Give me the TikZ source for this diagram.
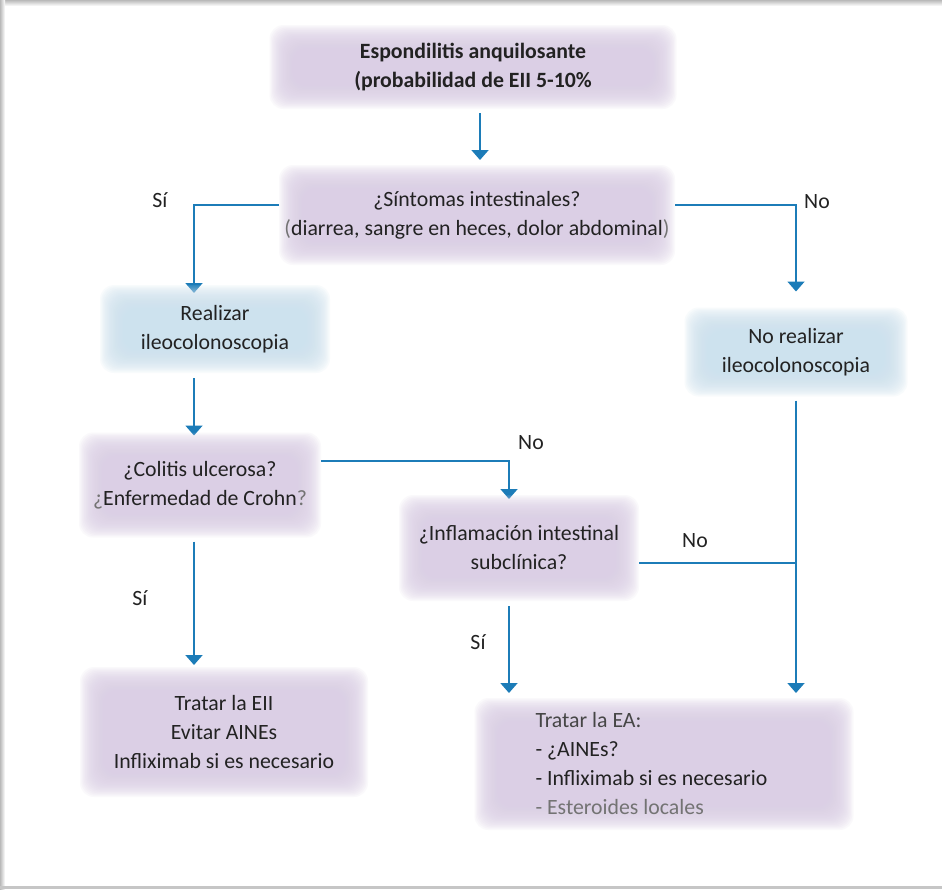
\documentclass[tikz,border=0pt]{standalone}
\usepackage{fontspec}
\setmainfont{Carlito}
\usetikzlibrary{arrows.meta, calc, positioning}
\pgfdeclarelayer{paper}
\pgfdeclarelayer{background}
\pgfsetlayers{paper,background,main}
\definecolor{flowblue}{RGB}{28,124,184}
\definecolor{lilac}{RGB}{219,207,229}
\definecolor{iceblue}{RGB}{205,226,238}
\definecolor{inkgray}{RGB}{34,34,34}
\definecolor{midgray}{RGB}{70,70,70}
\definecolor{softgray}{RGB}{115,115,115}

\begin{document}
\begin{tikzpicture}[x=1pt, y=-1pt, >={Triangle[width=17pt,length=10pt]},
  every node/.style={font=\fontsize{21.8}{29}\selectfont, text=inkgray},
  softfill/.style={path picture={
    \foreach \k in {0,...,21}{
      \fill[#1, fill opacity=0.12, rounded corners=14pt]
        ([shift={(\k*1.3pt,-\k*1.3pt)}]path picture bounding box.north west) rectangle
        ([shift={(-\k*1.3pt,\k*1.3pt)}]path picture bounding box.south east);}}},
  box/.style={align=center, inner sep=0pt, outer sep=0pt},
  lilacbox/.style={box, softfill=lilac},
  icebox/.style={box, softfill=iceblue},
  flow/.style={->, flowblue, line width=1.8pt},
  flowline/.style={flowblue, line width=1.8pt},
  answer/.style={inner sep=0pt}]
  % page with a soft grey rim
  \useasboundingbox (0,0) rectangle (942,889);
  \begin{pgfonlayer}{paper}
    \fill[white] (0,0) rectangle (942,889);
    \shade[top color=gray!55, bottom color=white] (0,0) rectangle (942,6);
    \shade[left color=gray!55, right color=white] (0,0) rectangle (5,889);
    \fill[gray!45] (0,886) rectangle (942,889);
  \end{pgfonlayer}
  % boxes
  \node[lilacbox, minimum width=407pt, minimum height=84pt] (esp) at (473,67)
    {\bfseries Espondilitis anquilosante\\\bfseries (probabilidad de EII 5-10\%};
  \node[lilacbox, minimum width=396pt, minimum height=100pt] (sint) at (477,215)
    {¿Síntomas intestinales?\\{\color{softgray}(}diarrea, sangre en heces, dolor abdominal{\color{softgray})}};
  \node[icebox, minimum width=230pt, minimum height=88pt] (real) at (215,329)
    {Realizar\\ileocolonoscopia};
  \node[icebox, minimum width=223pt, minimum height=89pt] (noreal) at (796,352)
    {No realizar\\ileocolonoscopia};
  \node[lilacbox, minimum width=242pt, minimum height=105pt] (colitis) at (200,485)
    {¿Colitis ulcerosa?\\{\color{softgray}¿}Enfermedad de Crohn{\color{softgray}?}};
  \node[lilacbox, minimum width=240pt, minimum height=106pt] (inflam) at (519,548)
    {¿Inflamación intestinal\\subclínica?};
  \node[lilacbox, minimum width=288pt, minimum height=130pt] (treii) at (224,732)
    {Tratar la EII\\Evitar AINEs\\Infliximab si es necesario};
  \node[lilacbox, align=flush left, text width=257pt, inner xsep=61pt, minimum height=132pt] (trea) at (664,764)
    {{\color{midgray}Tratar la EA:}\\- ¿AINEs?\\- Infliximab si es necesario\\{\color{softgray}- Esteroides locales}};
  % answers
  \node[answer] (siA) at (160,200) {Sí};
  \node[answer] (noA) at (817,202) {No};
  \node[answer] (noB) at (531,443) {No};
  \node[answer] (siB) at (140,598) {Sí};
  \node[answer] (noC) at (695,541) {No};
  \node[answer] (siC) at (478,642) {Sí};
  % connectors behind the boxes
  \begin{pgfonlayer}{background}
    \draw[flow] ([xshift=3pt,yshift=-4pt]esp.south -| sint.north) -- ([xshift=3pt,yshift=5pt]sint.north);
    \draw[flow] ([yshift=10pt]sint.west) -| ([xshift=-21pt,yshift=-8pt]real.north);
    \draw[flow] ([yshift=10pt]sint.east) -| ([yshift=16pt]noreal.north);
    \draw[flow] ([xshift=-21pt,yshift=-5pt]real.south) -- ([xshift=-6pt,yshift=-3pt]colitis.north);
    \draw[flow] ([yshift=24pt]colitis.east) -| ([xshift=-10pt,yshift=-4pt]inflam.north);
    \draw[flow] ([xshift=-6pt,yshift=-4pt]colitis.south) -- ([xshift=-30pt,yshift=2pt]treii.north);
    \draw[flow] ([xshift=-10pt,yshift=-5pt]inflam.south) -- ([xshift=-155pt,yshift=5pt]trea.north);
    \draw[flow] ([yshift=-4pt]noreal.south) -- ([xshift=132pt,yshift=5pt]trea.north);
    \draw[flowline] ([yshift=-15pt]inflam.east) -- ([yshift=-15pt]inflam.east -| noreal.south);
  \end{pgfonlayer}
\end{tikzpicture}
\end{document}
